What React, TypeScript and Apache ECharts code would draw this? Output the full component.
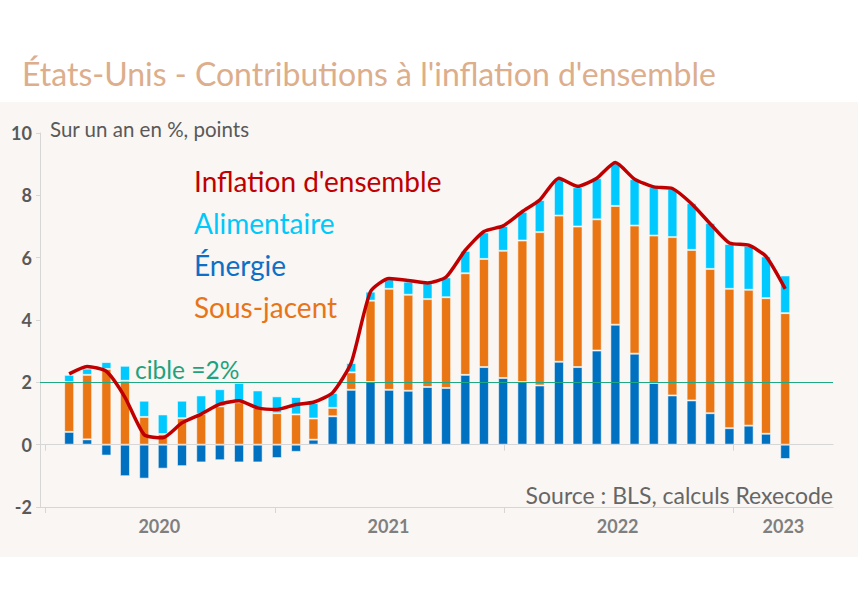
import React, { useEffect, useRef } from "react";
import * as echarts from "echarts";

// Months (Jan 2020 .. Mar 2023)
const months = [
  "2020-01","2020-02","2020-03","2020-04","2020-05","2020-06","2020-07","2020-08","2020-09","2020-10","2020-11","2020-12",
  "2021-01","2021-02","2021-03","2021-04","2021-05","2021-06","2021-07","2021-08","2021-09","2021-10","2021-11","2021-12",
  "2022-01","2022-02","2022-03","2022-04","2022-05","2022-06","2022-07","2022-08","2022-09","2022-10","2022-11","2022-12",
  "2023-01","2023-02","2023-03",
];

const energie = [
  0.41, 0.17, -0.35, -1.01, -1.09, -0.77, -0.69, -0.57, -0.5, -0.57, -0.57, -0.43,
  -0.23, 0.16, 0.91, 1.76, 2.01, 1.76, 1.73, 1.85, 1.82, 2.24, 2.49, 2.14,
  2.01, 1.9, 2.66, 2.49, 3.02, 3.85, 2.92, 1.98, 1.58, 1.42, 1.01, 0.53,
  0.61, 0.35, -0.46,
];

const sousJacent = [
  1.6, 2.07, 2.43, 2.05, 0.89, 0.34, 0.85, 0.99, 1.23, 1.36, 1.18, 1.01,
  0.97, 0.68, 0.27, 0.56, 2.61, 3.24, 3.08, 2.82, 2.91, 3.26, 3.47, 4.08,
  4.54, 4.92, 4.69, 4.51, 4.21, 3.81, 4.11, 4.73, 5.08, 4.83, 4.63, 4.47,
  4.36, 4.35, 4.22,
];

const alimentaire = [
  0.23, 0.2, 0.22, 0.48, 0.52, 0.63, 0.56, 0.59, 0.55, 0.62, 0.56, 0.54,
  0.56, 0.5, 0.48, 0.3, 0.29, 0.31, 0.42, 0.51, 0.64, 0.72, 0.85, 0.8,
  0.92, 1.03, 1.2, 1.26, 1.32, 1.39, 1.49, 1.55, 1.55, 1.5, 1.47, 1.44,
  1.41, 1.34, 1.21,
];

const inflation = [
  2.27, 2.51, 2.35, 1.52, 0.32, 0.22, 0.7, 0.98, 1.3, 1.41, 1.18, 1.13,
  1.29, 1.36, 1.67, 2.63, 4.91, 5.33, 5.27, 5.19, 5.38, 6.24, 6.84, 7.02,
  7.48, 7.85, 8.55, 8.29, 8.55, 9.05, 8.52, 8.27, 8.22, 7.73, 7.09, 6.47,
  6.4, 6.04, 5.0,
];

// Axis: year ticks (Jan 1st) and year label positions
const yearTicks = ["2020-01-01", "2021-01-01", "2022-01-01", "2023-01-01"];
const yearLabelDates = ["2020-07-01", "2021-07-01", "2022-07-01", "2023-03-22"];
const xMin = "2019-12-24";
const xMax = "2023-06-09";
const cible = 2;

const FONT = 'Lato, "Noto Sans", sans-serif';

const ts = (s: string) => {
  const [y, m, d] = s.split("-").map(Number);
  return new Date(y, m - 1, d).getTime();
};
// each monthly value is plotted at the end of its month
const monthEnd = (s: string) => {
  const [y, m] = s.split("-").map(Number);
  return new Date(y, m, 1).getTime();
};

export default function App() {
  const ref = useRef<HTMLDivElement>(null);

  useEffect(() => {
    if (!ref.current) return;
    const chart = echarts.init(ref.current, undefined, { renderer: "svg" });
    const pts = (arr: number[]) => arr.map((v, i) => [monthEnd(months[i]), v]);

    const barCommon = {
      type: "bar",
      stack: "contrib",
      barWidth: 10,
      xAxisIndex: 0,
      yAxisIndex: 0,
    };
    const tickVals = yearTicks.map(ts);
    const labelVals = yearLabelDates.map(ts);
    const lo = ts(xMin);
    const hi = ts(xMax);

    const option: any = {
      animation: false,
      title: {
        text: "États-Unis - Contributions à l'inflation d'ensemble",
        left: 17,
        top: 52,
        textStyle: { fontSize: 32, color: "#dcae8c", fontWeight: "normal", fontFamily: FONT },
      },
      legend: {
        orient: "vertical",
        left: 184,
        top: 161,
        icon: "none",
        itemWidth: 0,
        itemHeight: 30,
        itemGap: 12,
        selectedMode: false,
        textStyle: { fontSize: 28, fontFamily: FONT, lineHeight: 30 },
        data: [
          { name: "Inflation d'ensemble", textStyle: { color: "#c00000" } },
          { name: "Alimentaire", textStyle: { color: "#00c8fa" } },
          { name: "Énergie", textStyle: { color: "#0f6fc6" } },
          { name: "Sous-jacent", textStyle: { color: "#e8741a" } },
        ],
      },
      grid: { left: 40, right: 25, top: 133, bottom: 93, containLabel: false },
      xAxis: [
        {
          type: "time",
          min: lo,
          max: hi,
          position: "bottom",
          axisLine: { show: false, onZero: false },
          axisTick: { show: false },
          axisLabel: { show: false },
          splitLine: { show: false },
        },
        {
          type: "value",
          min: lo,
          max: hi,
          position: "bottom",
          axisLine: { show: true, onZero: true, lineStyle: { color: "#d6d6d6", width: 1 } },
          axisTick: { show: true, customValues: tickVals, length: 6, lineStyle: { color: "#d6d6d6" } },
          axisLabel: { show: false },
          splitLine: { show: false },
        },
        {
          type: "value",
          min: lo,
          max: hi,
          position: "bottom",
          axisLine: { show: true, onZero: false, lineStyle: { color: "#d6d6d6", width: 1 } },
          axisTick: { show: true, customValues: tickVals, length: 6, lineStyle: { color: "#d6d6d6" } },
          axisLabel: {
            show: true,
            customValues: labelVals,
            margin: 10,
            fontSize: 18,
            fontWeight: "bold",
            color: "#7f7f7f",
            fontFamily: FONT,
            formatter: (v: number) => String(new Date(v).getFullYear()),
          },
          splitLine: { show: false },
        },
      ],
      yAxis: {
        type: "value",
        min: -2,
        max: 10,
        interval: 2,
        axisLine: { show: true, lineStyle: { color: "#d6d6d6", width: 1 } },
        axisTick: { show: true, length: 4, lineStyle: { color: "#d6d6d6" } },
        axisLabel: { fontSize: 18, fontWeight: "bold", color: "#595959", fontFamily: FONT, margin: 8 },
        splitLine: { show: false },
      },
      series: [
        {
          ...barCommon,
          name: "Énergie",
          data: pts(energie),
          itemStyle: { color: "#0070c0", borderColor: "rgba(255,255,255,0.55)", borderWidth: 1 },
          markLine: {
            silent: true,
            symbol: "none",
            label: { show: false },
            lineStyle: { color: "#1fa982", width: 1.2, type: "solid" },
            data: [{ yAxis: cible }],
          },
        },
        {
          ...barCommon,
          name: "Sous-jacent",
          data: pts(sousJacent),
          itemStyle: { color: "#e97513", borderColor: "rgba(255,255,255,0.55)", borderWidth: 1 },
        },
        {
          ...barCommon,
          name: "Alimentaire",
          data: pts(alimentaire),
          itemStyle: { color: "#00c9ff", borderColor: "rgba(255,255,255,0.55)", borderWidth: 1 },
        },
        {
          type: "line",
          name: "Inflation d'ensemble",
          data: pts(inflation),
          xAxisIndex: 0,
          yAxisIndex: 0,
          smooth: 0.2,
          symbol: "none",
          z: 5,
          lineStyle: { color: "#c00000", width: 3.5 },
          itemStyle: { color: "#c00000" },
        },
      ],
      graphic: [
        {
          type: "text",
          left: 50,
          top: 118,
          style: { text: "Sur un an en %, points", fontSize: 20.5, fontFamily: FONT, fill: "#595959" },
        },
        {
          type: "text",
          left: 135,
          top: 357,
          style: { text: "cible =2%", fontSize: 24.5, fontFamily: FONT, fill: "#1fa27c" },
        },
        {
          type: "text",
          right: 25,
          top: 483,
          style: { text: "Source : BLS, calculs Rexecode", fontSize: 23, fontFamily: FONT, fill: "#666666" },
        },
      ],
    };

    chart.setOption(option);
    return () => chart.dispose();
  }, []);

  return (
    <div
      ref={ref}
      style={{
        position: "fixed",
        left: 0,
        top: 0,
        width: 858,
        height: 600,
        background:
          "linear-gradient(to bottom, #ffffff 0px, #ffffff 102px, #f9f6f3 102px, #f9f6f3 557px, #ffffff 557px, #ffffff 600px)",
      }}
    />
  );
}
